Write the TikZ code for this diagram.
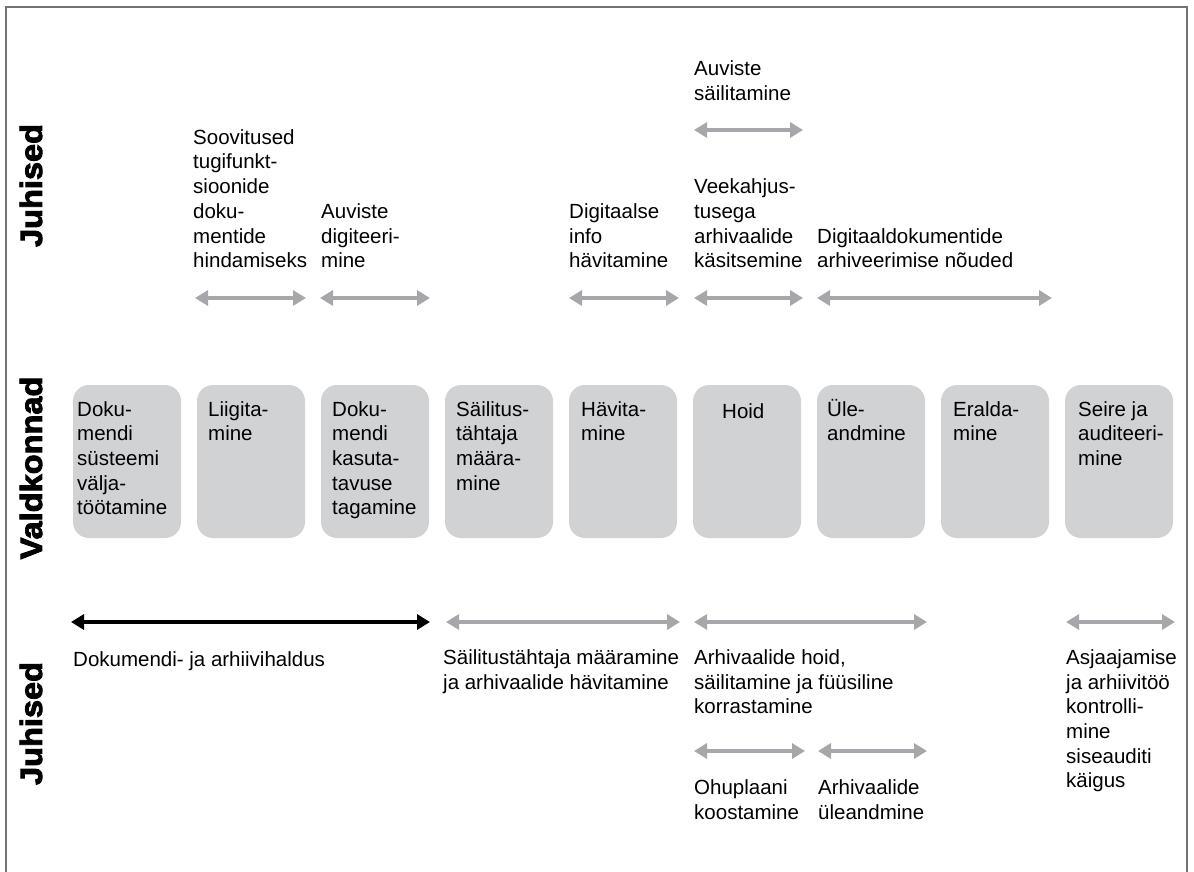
\documentclass[tikz,border=0pt]{standalone}
\usepackage{fontspec}
\setmainfont{Liberation Sans}
\newfontfamily\headfont[FakeStretch=1.06,FakeBold=3]{Liberation Sans}
\usepackage{tikz}
\usetikzlibrary{arrows.meta}

\definecolor{framegray}{HTML}{737373}
\definecolor{boxgray}{HTML}{D1D2D4}
\definecolor{spangray}{HTML}{A5A7AA}
\newcommand\lblfont{\fontsize{20.5}{24.7}\selectfont}

\begin{document}
\begin{tikzpicture}[x=1pt, y=-1pt,
  lbl/.style={anchor=north west, inner sep=0pt, align=left, font=\lblfont,
    execute at begin node=\strut},
  head/.style={rotate=90, inner sep=0pt,
    font=\headfont\bfseries\fontsize{30.7}{30.7}\selectfont},
  area/.style={fill=boxgray, rounded corners=16pt, minimum width=108pt,
    minimum height=153pt, inner sep=0pt},
  span/.style={spangray, line width=3.5pt,
    {Triangle[length=13pt,width=15pt]}-{Triangle[length=13pt,width=15pt]}},
  mainspan/.style={span, black}
]
  \useasboundingbox (0,0) rectangle (1194,872);
  \draw[framegray, line width=1.3pt] (6,872) -- (6,7) -- (1187,7) -- (1187,872);

  % side headings
  \node[head] (juhisedtop) at (31,185.5) {Juhised};
  \node[head] (valdkonnad) at (31,468) {Valdkonnad};
  \node[head] (juhisedbot) at (31,723.5) {Juhised};

  % valdkonnad
  \node[area] (dokusys) at (127,461.5) {};
  \node[area] (liigit) at (251,461.5) {};
  \node[area] (dokukas) at (375,461.5) {};
  \node[area] (sailt) at (499,461.5) {};
  \node[area] (havit) at (623,461.5) {};
  \node[area] (hoid) at (747,461.5) {};
  \node[area] (uleand) at (871,461.5) {};
  \node[area] (eralda) at (995,461.5) {};
  \node[area] (seire) at (1119,461.5) {};

  \node[lbl] (dokusys-t) at (77,401) {Doku-\\mendi\\süsteemi\\välja-\\töötamine};
  \node[lbl] (liigit-t) at (208,401) {Liigita-\\mine};
  \node[lbl] (dokukas-t) at (332,401) {Doku-\\mendi\\kasuta-\\tavuse\\tagamine};
  \node[lbl] (sailt-t) at (456,401) {Säilitus-\\tähtaja\\määra-\\mine};
  \node[lbl] (havit-t) at (581,401) {Hävita-\\mine};
  \node[lbl] (hoid-t) at (722,401) {Hoid};
  \node[lbl] (uleand-t) at (827,401) {\smash{Ü}le-\\andmine};
  \node[lbl] (eralda-t) at (953,401) {Eralda-\\mine};
  \node[lbl] (seire-t) at (1078,401) {Seire ja\\auditeeri-\\mine};

  % juhised, ylemine rida
  \node[lbl] (auvsail) at (694,60.4) {Auviste\\säilitamine};
  \node[lbl] (soovit) at (193,129.2) {Soovitused\\tugifunkt-\\sioonide\\doku-\\mentide\\hindamiseks};
  \node[lbl] (digiteer) at (321,203.3) {Auviste\\digiteeri-\\mine};
  \node[lbl] (digihav) at (569,203.3) {Digitaalse\\info\\hävitamine};
  \node[lbl] (veekahj) at (694,178.6) {Veekahjus-\\tusega\\arhivaalide\\käsitsemine};
  \node[lbl] (digiarh) at (817,228) {Digitaaldokumentide\\arhiveerimise nõuded};

  \coordinate (auvsail-l) at (694,130);  \coordinate (auvsail-r) at (803,130);
  \coordinate (soovit-l) at (195,298);   \coordinate (soovit-r) at (306,298);
  \coordinate (digiteer-l) at (320,298); \coordinate (digiteer-r) at (430,298);
  \coordinate (digihav-l) at (569,298);  \coordinate (digihav-r) at (679,298);
  \coordinate (veekahj-l) at (694,298);  \coordinate (veekahj-r) at (803,298);
  \coordinate (digiarh-l) at (817,298);  \coordinate (digiarh-r) at (1052,298);

  \draw[span] (auvsail-l) -- (auvsail-r);
  \draw[span] (soovit-l) -- (soovit-r);
  \draw[span] (digiteer-l) -- (digiteer-r);
  \draw[span] (digihav-l) -- (digihav-r);
  \draw[span] (veekahj-l) -- (veekahj-r);
  \draw[span] (digiarh-l) -- (digiarh-r);

  % juhised, alumine rida
  \node[lbl] (dokuarh) at (73,649.4) {Dokumendi- ja arhiivihaldus};
  \node[lbl] (sailhav) at (443,649.4) {Säilitustähtaja määramine\\ja arhivaalide hävitamine};
  \node[lbl] (arhhoid) at (694,649.4) {Arhivaalide hoid,\\säilitamine ja füüsiline\\korrastamine};
  \node[lbl] (asjaaj) at (1066,649.4) {Asjaajamise\\ja arhiivitöö\\kontrolli-\\mine\\siseauditi\\käigus};
  \node[lbl] (ohuplaan) at (694,779.4) {Ohuplaani\\koostamine};
  \node[lbl] (arhuleand) at (818,779.4) {Arhivaalide\\üleandmine};

  \coordinate (dokuarh-l) at (71,622);   \coordinate (dokuarh-r) at (430,622);
  \coordinate (sailhav-l) at (446,622);  \coordinate (sailhav-r) at (680,622);
  \coordinate (arhhoid-l) at (694,622);  \coordinate (arhhoid-r) at (927,622);
  \coordinate (asjaaj-l) at (1066,622);  \coordinate (asjaaj-r) at (1175,622);
  \coordinate (ohuplaan-l) at (694,751); \coordinate (ohuplaan-r) at (805,751);
  \coordinate (arhuleand-l) at (818,751); \coordinate (arhuleand-r) at (927,751);

  \draw[mainspan] (dokuarh-l) -- (dokuarh-r);
  \draw[span] (sailhav-l) -- (sailhav-r);
  \draw[span] (arhhoid-l) -- (arhhoid-r);
  \draw[span] (asjaaj-l) -- (asjaaj-r);
  \draw[span] (ohuplaan-l) -- (ohuplaan-r);
  \draw[span] (arhuleand-l) -- (arhuleand-r);
\end{tikzpicture}
\end{document}
